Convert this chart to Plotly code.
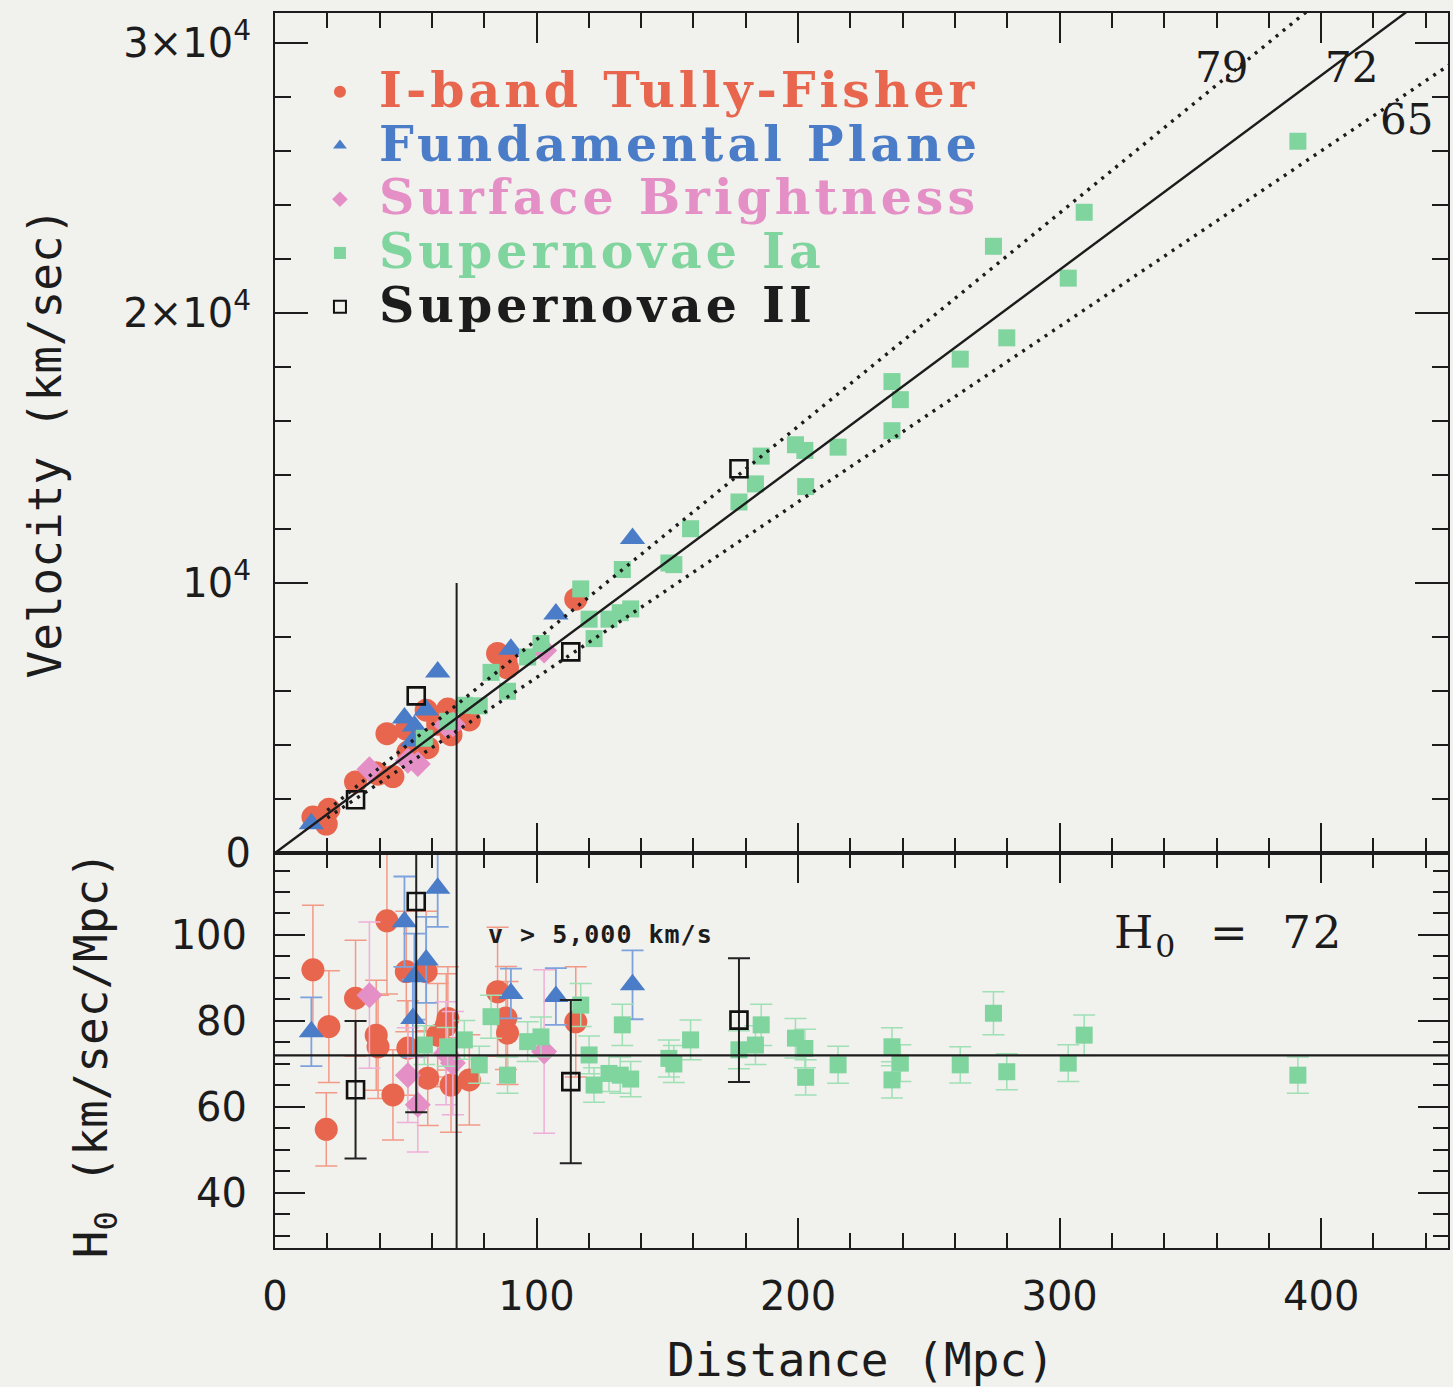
import plotly.graph_objects as go

# ---------------- data ----------------
# I-band Tully-Fisher
tf_d = [14.5, 20.6, 19.6, 30.8, 42.8, 38.7, 39.4, 45.1, 50.2, 57.8, 66.1, 65.5, 58.4, 67.3, 74.3, 62.2, 50.8, 85.1, 88.9, 88.3, 115.0]
tf_v = [1330, 1620, 1070, 2630, 4420, 2970, 2920, 2830, 4590, 5290, 5330, 5170, 3900, 4380, 4930, 4770, 3740, 7390, 6860, 7130, 9400]
tf_h = [91.9, 78.7, 54.8, 85.3, 103.3, 76.7, 74.0, 62.8, 91.5, 91.5, 80.6, 79.0, 66.7, 65.1, 66.3, 76.7, 73.7, 86.8, 77.2, 80.7, 79.8]
tf_e = [15, 13, 8.5, 13.5, 17, 12.8, 12, 10.5, 14, 14, 12, 12, 11, 11, 10.5, 12, 11, 15, 12, 12, 12.8]

# Fundamental Plane
fp_d = [13.9, 49.5, 57.8, 53.3, 52.7, 62.2, 90.2, 107.4, 136.7]
fp_v = [1080, 5000, 5300, 4700, 4150, 6700, 7550, 8850, 11650]
fp_h = [77.5, 103.1, 94.2, 90.3, 80.6, 110.9, 86.4, 85.7, 88.4]
fp_e = [8, 10.5, 10, 10, 9, 9, 5.8, 6.6, 8]

# Surface Brightness
sb_d = [36.1, 50.8, 54.6, 68.0, 65.4, 102.9]
sb_v = [3100, 3420, 3300, 4770, 4740, 7500]
sb_h = [86.0, 67.4, 60.5, 70.2, 72.5, 72.9]
sb_e = [17, 11, 11, 12, 12, 19]

# Supernovae Ia
s1_d = [57.1, 66.0, 72.4, 78.1, 82.6, 88.9, 96.6, 101.7, 116.9, 120.1, 122.0, 127.7,
        132.0, 132.8, 136.0, 150.6, 152.5, 158.9, 177.4, 183.7, 185.9, 199.0, 202.6,
        202.9, 215.3, 235.9, 239.1, 235.9, 262.0, 274.7, 279.8, 303.3, 309.4, 391.1]
s1_v = [4250, 4880, 5470, 5450, 6690, 5990, 7260, 7760, 9780, 8660, 7940, 8660,
        8900, 10500, 9040, 10740, 10680, 12010, 13000, 13670, 14700, 15120, 14910,
        13570, 15030, 17460, 16790, 15640, 18290, 22470, 19080, 21290, 23730, 26360]
s1_h = [74.4, 74.0, 75.6, 69.8, 81.0, 67.4, 75.2, 76.3, 83.7, 72.1, 65.1, 67.8,
        67.4, 79.1, 66.5, 71.3, 70.0, 75.6, 73.3, 74.4, 79.1, 76.0, 73.6,
        66.9, 69.8, 74.0, 70.2, 66.3, 69.8, 81.8, 68.2, 70.2, 76.7, 67.4]
s1_e = [4.5, 4.5, 4.5, 4.3, 5.0, 4.2, 4.6, 4.6, 5.0, 4.4, 4.0, 4.2,
        4.2, 4.8, 4.1, 4.3, 4.3, 4.6, 4.4, 4.5, 4.8, 4.6, 4.5,
        4.1, 4.3, 4.4, 4.3, 4.2, 4.2, 5.0, 4.2, 4.3, 4.7, 4.2]

# Supernovae II
s2_d = [30.8, 54.0, 113.1, 177.4]
s2_v = [1970, 5820, 7450, 14230]
s2_h = [64.0, 107.8, 65.9, 80.2]
s2_e = [16, 49, 19, 14.4]

# Hubble-law reference lines
H_BEST = 72
H_LOW = 65
H_HIGH = 79
V_CUT = 5000
line_d = [0, 450]
dot_d = [20, 450]

x_ticks = [0, 100, 200, 300, 400]
v_tickvals = [0, 10000, 20000, 30000]
v_ticktext = ["0", "10<sup>4</sup>", "2×10<sup>4</sup>", "3×10<sup>4</sup>"]
h_tickvals = [40, 60, 80, 100]

# ---------------- styling ----------------
BG = "#f1f1ee"
INK = "#1c1c1c"
C_TF, C_TF_E = "#e8664d", "#f29a86"
C_FP, C_FP_E = "#4a7cc8", "#7ea3dc"
C_SB, C_SB_E = "#e48fc6", "#eeb0d8"
C_S1, C_S1_E = "#80d49e", "#9fe0b5"
C_S2 = "#111111"

SERIF = "DejaVu Serif"
MONO = "DejaVu Sans Mono"
SANS = "DejaVu Sans"

def lname(txt, col):
    return (f"<b><span style='color:{col};font-size:49px;letter-spacing:4px'>{txt}</span></b>")

fig = go.Figure()

series = [
    ("I-band Tully-Fisher", tf_d, tf_v, tf_h, tf_e, dict(symbol="circle", size=23, color=C_TF), C_TF, C_TF_E, 1.5),
    ("Fundamental Plane", fp_d, fp_v, fp_h, fp_e, dict(symbol="triangle-up", size=22, color=C_FP), C_FP, C_FP_E, 1.8),
    ("Surface Brightness", sb_d, sb_v, sb_h, sb_e, dict(symbol="diamond", size=20, color=C_SB), C_SB, C_SB_E, 1.5),
    ("Supernovae Ia", s1_d, s1_v, s1_h, s1_e, dict(symbol="square", size=17, color=C_S1), C_S1, C_S1_E, 1.5),
    ("Supernovae II", s2_d, s2_v, s2_h, s2_e,
     dict(symbol="square-open", size=17, color=C_S2, line=dict(width=2.6, color=C_S2)), INK, "#222222", 2.0),
]

for name, d, v, h, e, mk, tcol, ecol, ew in series:
    # top panel: velocity vs distance
    fig.add_trace(go.Scatter(x=d, y=v, mode="markers", marker=mk, name=lname(name, tcol),
                             xaxis="x2", yaxis="y2", showlegend=True, cliponaxis=True))
    # bottom panel: H0 vs distance with error bars
    fig.add_trace(go.Scatter(x=d, y=h, mode="markers", marker=mk, showlegend=False,
                             error_y=dict(type="data", array=e, color=ecol, thickness=ew, width=11),
                             xaxis="x", yaxis="y", cliponaxis=True))

# Hubble lines (drawn on top of the markers)
fig.add_trace(go.Scatter(x=line_d, y=[H_BEST * d for d in line_d], mode="lines",
                         line=dict(color=INK, width=2.4), showlegend=False,
                         xaxis="x2", yaxis="y2", hoverinfo="skip"))
for hh in (H_HIGH, H_LOW):
    fig.add_trace(go.Scatter(x=dot_d, y=[hh * d for d in dot_d], mode="lines",
                             line=dict(color=INK, width=3.4, dash="3px,6px"), showlegend=False,
                             xaxis="x2", yaxis="y2", hoverinfo="skip"))

d_cut = V_CUT / H_BEST
shapes = [
    dict(type="line", xref="x2", yref="y2", x0=d_cut, x1=d_cut, y0=0, y1=2 * V_CUT,
         line=dict(color=INK, width=2)),
    dict(type="line", xref="x", yref="y domain", x0=d_cut, x1=d_cut, y0=0, y1=1,
         line=dict(color=INK, width=2)),
    dict(type="line", xref="x domain", yref="y", x0=0, x1=1, y0=H_BEST, y1=H_BEST,
         line=dict(color=INK, width=2.4)),
]

def ann(**kw):
    base = dict(showarrow=False, xanchor="center", yanchor="middle")
    base.update(kw)
    return base

annotations = [
    ann(xref="x2", yref="y2", x=361.8, y=29110, text="79", font=dict(family=SERIF, size=42, color=INK)),
    ann(xref="x2", yref="y2", x=411.5, y=29110, text="72", font=dict(family=SERIF, size=42, color=INK)),
    ann(xref="x2", yref="y2", x=432.5, y=27150, text="65", font=dict(family=SERIF, size=42, color=INK)),
    ann(xref="x", yref="y", x=364.5, y=100.0,
        text="<span style='letter-spacing:2px'>H<sub>0</sub>  =  72</span>",
        font=dict(family=SERIF, size=45, color=INK)),
    ann(xref="x", yref="y", x=80.5, y=100.0, xanchor="left",
        text="<b><span style='letter-spacing:1px'>v > 5,000 km/s</span></b>",
        font=dict(family=MONO, size=25, color=INK)),
    # axis titles
    ann(xref="paper", yref="paper", x=0.4996, y=-0.0907, text="Distance (Mpc)",
        font=dict(family=MONO, size=46, color=INK)),
    ann(xref="paper", yref="paper", x=-0.1957, y=0.6518, text="Velocity (km/sec)",
        textangle=-90, font=dict(family=MONO, size=46, color=INK)),
    ann(xref="paper", yref="paper", x=-0.1532, y=0.1563, text="H<sub>0</sub> (km/sec/Mpc)",
        textangle=-90, font=dict(family=MONO, size=46, color=INK)),
]

TOP_FRAC = 395 / 1235

axis_common = dict(showline=True, linecolor=INK, linewidth=2, mirror="allticks",
                   ticks="inside", tickcolor=INK, tickwidth=2, showgrid=False, zeroline=False,
                   tickfont=dict(family=SANS, size=40, color=INK))

fig.update_layout(
    width=1453, height=1387,
    margin=dict(l=275, r=3, t=13, b=139),
    paper_bgcolor=BG, plot_bgcolor=BG,
    showlegend=True,
    legend=dict(x=(301 - 275) / 1175, y=1 - (60 - 13) / 1235, xanchor="left", yanchor="top",
                bgcolor="rgba(0,0,0,0)", font=dict(family=SERIF, size=39, color=INK),
                itemsizing="constant", itemwidth=68, tracegroupgap=0, traceorder="normal"),
    xaxis=dict(axis_common, range=[0, 448.5], anchor="y", tickvals=x_ticks, ticklen=30,
               minor=dict(dtick=20, ticklen=15, ticks="inside", tickcolor=INK, tickwidth=2),
               ticklabelstandoff=12),
    yaxis=dict(axis_common, range=[27.2, 119.07], domain=[0, TOP_FRAC], anchor="x",
               tickvals=h_tickvals, ticklen=30,
               minor=dict(dtick=5, tick0=0, ticklen=15, ticks="inside", tickcolor=INK, tickwidth=2),
               ticklabelstandoff=18),
    xaxis2=dict(axis_common, range=[0, 448.5], anchor="y2", matches="x", tickvals=x_ticks, ticklen=30,
                showticklabels=False,
                minor=dict(dtick=20, ticklen=15, ticks="inside", tickcolor=INK, tickwidth=2)),
    yaxis2=dict(axis_common, range=[0, 31110], domain=[TOP_FRAC, 1], anchor="x2",
                tickvals=v_tickvals, ticktext=v_ticktext, ticklen=33,
                minor=dict(dtick=2000, tick0=0, ticklen=16, ticks="inside", tickcolor=INK, tickwidth=2),
                ticklabelstandoff=14),
    shapes=shapes,
    annotations=annotations,
)

fig.write_html("out.html", config={"displayModeBar": False},
               post_script="document.body.style.margin='0';document.body.style.background='%s';" % BG)
